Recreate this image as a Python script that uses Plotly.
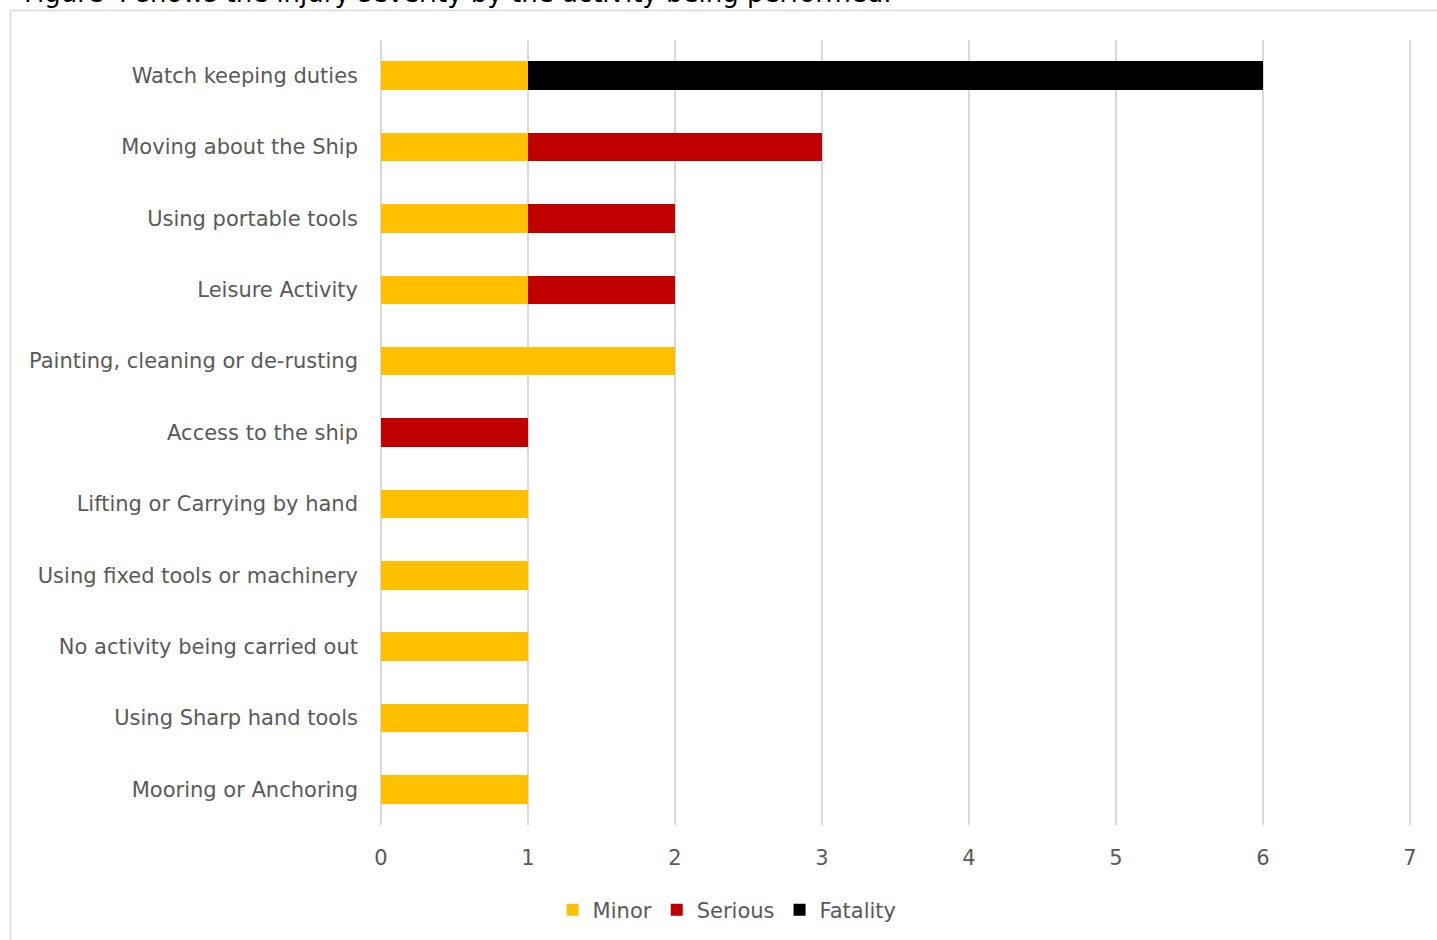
import plotly.graph_objects as go

# Activities, listed top to bottom
activities = [
    "Watch keeping duties",
    "Moving about the Ship",
    "Using portable tools",
    "Leisure Activity",
    "Painting, cleaning or de-rusting",
    "Access to the ship",
    "Lifting or Carrying by hand",
    "Using fixed tools or machinery",
    "No activity being carried out",
    "Using Sharp hand tools",
    "Mooring or Anchoring",
]
minor = [1, 1, 1, 1, 2, 0, 1, 1, 1, 1, 1]
serious = [0, 2, 1, 1, 0, 1, 0, 0, 0, 0, 0]
fatality = [5, 0, 0, 0, 0, 0, 0, 0, 0, 0, 0]
x_ticks = [0, 1, 2, 3, 4, 5, 6, 7]

W, H = 1437, 940
L, R, T, B = 379, 25, 40, 115
FONT = "DejaVu Sans"
GREY = "#595959"

fig = go.Figure()
for name, vals, col in [("Minor", minor, "#FFC000"),
                        ("Serious", serious, "#C00000"),
                        ("Fatality", fatality, "#000000")]:
    fig.add_trace(go.Bar(
        y=activities, x=vals, name=name, orientation="h",
        marker=dict(color=col, line=dict(width=0)),
    ))

pw = W - L - R
ph = H - T - B

fig.update_layout(
    width=W, height=H,
    margin=dict(l=L, r=R, t=T, b=B),
    barmode="stack",
    bargap=0.6,
    plot_bgcolor="white",
    paper_bgcolor="white",
    font=dict(family=FONT, size=21, color=GREY),
    xaxis=dict(
        range=[-0.0137, 7.0137], tickvals=x_ticks, showgrid=True,
        gridcolor="#d9d9d9", gridwidth=1.5, zeroline=False,
        showline=False, ticks="", ticklabelstandoff=18,
        tickfont=dict(family=FONT, size=21, color=GREY),
    ),
    yaxis=dict(
        categoryorder="array", categoryarray=activities,
        autorange="reversed", showgrid=False, zeroline=False,
        showline=False, ticks="", ticklabelstandoff=20,
        tickfont=dict(family=FONT, size=21, color=GREY),
    ),
    legend=dict(
        orientation="h", xref="container", yref="container",
        x=0.506, y=1 - 910 / H, xanchor="center", yanchor="middle",
        font=dict(family=FONT, size=21, color=GREY),
        itemwidth=30, traceorder="normal",
    ),
    showlegend=True,
    shapes=[dict(
        type="rect", xref="paper", yref="paper",
        x0=(10.5 - L) / pw, x1=(W + 20 - L) / pw,
        y0=-(B + 20) / ph, y1=1 + (T - 10.5) / ph,
        line=dict(color="#d9d9d9", width=1.5), fillcolor="rgba(0,0,0,0)",
        layer="below",
    )],
    annotations=[dict(
        text="Figure 4 shows the injury severity by the activity being performed.",
        xref="paper", yref="paper",
        x=(22 - L) / pw, y=1 + (T - 10) / ph,
        xanchor="left", yanchor="bottom", showarrow=False,
        font=dict(family=FONT, size=26, color="#000000"),
    )],
)

fig.write_html("out.html")
